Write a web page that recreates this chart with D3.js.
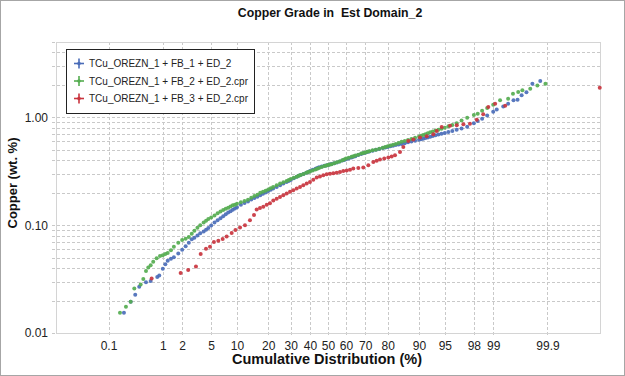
<!DOCTYPE html>
<html>
<head>
<meta charset="utf-8">
<script src="https://cdn.jsdelivr.net/npm/d3@7"></script>
<style>
  body { margin: 0; background: #fff; }
  svg { display: block; font-family: "Liberation Sans", Arial, sans-serif; }
</style>
</head>
<body>
<svg id="chart"></svg>
<script>
// legend / series
const seriesNames = [
    'TCu_OREZN_1 + FB_1 + ED_2',
    'TCu_OREZN_1 + FB_2 + ED_2.cpr',
    'TCu_OREZN_1 + FB_3 + ED_2.cpr'
];
const seriesColors = ['#4a6cb8', '#55ad50', '#c9343e'];

// axis ticks
const pctTicks = [0.1, 1, 2, 5, 10, 20, 30, 40, 50, 60, 70, 80, 90, 95, 98, 99, 99.9];
const pctLabels = ['0.1', '1', '2', '5', '10', '20', '30', '40', '50', '60', '70', '80', '90', '95', '98', '99', '99.9'];
const gradeTicks = [0.01, 0.1, 1];
const gradeGrid = [0.01, 0.02, 0.03, 0.04, 0.05, 0.06, 0.07, 0.08, 0.09,
    0.1, 0.2, 0.3, 0.4, 0.5, 0.6, 0.7, 0.8, 0.9, 1, 2, 3, 4, 5];

// [cumulative %, Cu wt.%]
const blueData = [
    [0.203, 0.0154], [0.273, 0.0195], [0.332, 0.0226], [0.393, 0.0268], [0.519, 0.0295], [0.626, 0.0304],
    [0.811, 0.0330], [0.875, 0.0341],
    [1, 0.0394], [1.1, 0.0433], [1.2, 0.0467], [1.35, 0.0489], [1.5, 0.0503], [1.75, 0.0547], [2, 0.0593],
    [2.25, 0.0638], [2.5, 0.0686], [2.75, 0.0739], [3, 0.0766], [3.3, 0.0801], [3.6, 0.0841], [4, 0.0876],
    [4.3, 0.0905], [4.6, 0.0942], [5, 0.0994], [5.5, 0.106], [6, 0.111], [6.5, 0.116], [7, 0.121], [7.5, 0.126],
    [8, 0.131], [8.5, 0.135], [9, 0.139], [9.5, 0.143], [10, 0.147], [11, 0.155], [12, 0.161], [13, 0.166],
    [14, 0.173], [15, 0.179], [16, 0.184], [17, 0.190], [18, 0.196], [19, 0.201], [20, 0.207], [21, 0.213],
    [22, 0.219], [23.5, 0.226], [25, 0.235], [26.5, 0.243], [28, 0.252], [29, 0.257], [30, 0.263], [31.5, 0.272],
    [33, 0.281], [34, 0.287], [35, 0.292], [36.5, 0.299], [38, 0.306], [39, 0.312], [40, 0.318], [41.5, 0.326],
    [43, 0.334], [44, 0.339], [45, 0.344], [46.5, 0.350], [48, 0.355], [49, 0.358], [50, 0.362], [51, 0.366],
    [52, 0.369], [53.5, 0.375], [55, 0.382], [56.5, 0.390], [58, 0.397], [59, 0.402], [60, 0.408], [61.5, 0.415],
    [63, 0.425], [64, 0.431], [65, 0.437], [66.5, 0.447], [68, 0.457], [69, 0.464], [70, 0.470], [71, 0.476],
    [72, 0.482], [73.5, 0.491], [75, 0.501], [76.5, 0.510], [78, 0.519], [79, 0.525], [80, 0.532], [81, 0.539],
    [82, 0.546], [83, 0.553], [84, 0.560], [85, 0.567], [86, 0.574], [87, 0.587], [88, 0.597], [89, 0.608],
    [90, 0.619], [90.5, 0.626], [91, 0.634], [91.5, 0.642], [92, 0.651], [92.5, 0.661], [93, 0.673], [93.5, 0.683],
    [94, 0.693], [94.5, 0.705], [95, 0.717], [95.5, 0.731], [96, 0.748], [96.5, 0.766], [97, 0.788], [97.5, 0.818],
    [98, 0.884], [98.25, 0.924], [98.5, 0.972], [98.75, 1.04], [99, 1.13],
    [99.125, 1.18], [99.32, 1.26], [99.44, 1.34], [99.55, 1.44], [99.62, 1.46], [99.68, 1.60], [99.74, 1.71],
    [99.80, 2.05], [99.86, 2.17]
];

const greenData = [
    [0.17, 0.0154], [0.222, 0.0175], [0.273, 0.0195], [0.319, 0.0259], [0.417, 0.0282], [0.465, 0.0316],
    [0.519, 0.0375], [0.569, 0.0405], [0.626, 0.0426], [0.693, 0.0458], [0.791, 0.0493], [0.90, 0.0517],
    [1, 0.0525], [1.1, 0.0540], [1.2, 0.0552], [1.35, 0.0587], [1.5, 0.0632], [1.75, 0.0686], [2, 0.0729],
    [2.25, 0.0750], [2.5, 0.0779], [2.75, 0.0832], [3, 0.0889], [3.3, 0.0948], [3.6, 0.100], [4, 0.106],
    [4.3, 0.110], [4.6, 0.114], [5, 0.118], [5.5, 0.123], [6, 0.129], [6.5, 0.134], [7, 0.138], [7.5, 0.142],
    [8, 0.145], [8.5, 0.149], [9, 0.153], [9.5, 0.155], [10, 0.158], [11, 0.163], [12, 0.168], [13, 0.172],
    [14, 0.180], [15, 0.186], [16, 0.192], [17, 0.200], [18, 0.204], [19, 0.209], [20, 0.214], [21, 0.220],
    [22, 0.226], [23.5, 0.235], [25, 0.243], [26.5, 0.250], [28, 0.257], [29, 0.263], [30, 0.268], [31.5, 0.275],
    [33, 0.282], [34, 0.287], [35, 0.292], [36.5, 0.299], [38, 0.306], [39, 0.311], [40, 0.315], [41.5, 0.321],
    [43, 0.329], [44, 0.334], [45, 0.339], [46.5, 0.346], [48, 0.353], [49, 0.358], [50, 0.362], [51, 0.365],
    [52, 0.368], [53.5, 0.375], [55, 0.383], [56.5, 0.390], [58, 0.401], [59, 0.407], [60, 0.415], [61.5, 0.423],
    [63, 0.432], [64, 0.437], [65, 0.443], [66.5, 0.451], [68, 0.461], [69, 0.467], [70, 0.473], [71, 0.479],
    [72, 0.485], [73.5, 0.495], [75, 0.501], [76.5, 0.511], [78, 0.523], [79, 0.531], [80, 0.539], [81, 0.547],
    [82, 0.556], [83, 0.565], [84, 0.579], [85, 0.594], [86, 0.605], [87, 0.618], [88, 0.631], [89, 0.647],
    [90, 0.663], [90.5, 0.674], [91, 0.686], [91.5, 0.698], [92, 0.711], [92.5, 0.726], [93, 0.740], [93.5, 0.755],
    [94, 0.769], [94.5, 0.786], [95, 0.803], [95.5, 0.825], [96, 0.850], [96.5, 0.880], [97, 0.936], [97.5, 0.994],
    [98, 1.05], [98.25, 1.08], [98.5, 1.15], [98.75, 1.22], [99, 1.31],
    [99.23, 1.44], [99.44, 1.49], [99.54, 1.66], [99.63, 1.72], [99.69, 1.78], [99.78, 1.84], [99.84, 1.98],
    [99.89, 2.05]
];

const redData = [
    [0.651, 0.0320], [1.90, 0.0360], [2.45, 0.0383], [3.15, 0.0413], [3.65, 0.0540], [4.29, 0.0604],
    [4.83, 0.0632], [5.41, 0.0700], [6.12, 0.0719], [6.90, 0.0744], [7.68, 0.0787], [8.75, 0.0848],
    [9.63, 0.0904], [10.77, 0.0952], [12.12, 0.100], [13.59, 0.111], [14.87, 0.124], [15.77, 0.140],
    [16.91, 0.144], [18.12, 0.148], [19.41, 0.155], [20.70, 0.160], [22.06, 0.169], [23.50, 0.176],
    [24.96, 0.183], [26.45, 0.190], [28.03, 0.197], [29.63, 0.204], [31.24, 0.211], [32.96, 0.219],
    [34.68, 0.226], [36.39, 0.235], [38.21, 0.243], [39.98, 0.252], [41.80, 0.264], [43.68, 0.277],
    [45.50, 0.283], [47.37, 0.290], [49.28, 0.296], [51.12, 0.300], [52.98, 0.303], [54.88, 0.306],
    [56.71, 0.311], [58.52, 0.318], [60.37, 0.322], [62.17, 0.326], [63.91, 0.335], [66.53, 0.339],
    [69.04, 0.342], [71.50, 0.359], [73.83, 0.385], [75.36, 0.396], [76.80, 0.406], [78.58, 0.415],
    [80.21, 0.424], [81.51, 0.434], [82.73, 0.445], [84.47, 0.477], [85.56, 0.531], [87.10, 0.603],
    [88.51, 0.622], [90.25, 0.649], [91.78, 0.667], [93.10, 0.696], [93.71, 0.746], [94.53, 0.813],
    [95.71, 0.834], [96.51, 0.843], [97.17, 0.861], [97.72, 0.874], [98.19, 0.952], [98.56, 1.07],
    [98.80, 1.25], [99.07, 1.34], [99.37, 1.28], [99.9935, 1.88]
];

const allData = [blueData, greenData, redData];

// inverse normal CDF (Acklam), used for the probability axis
function probit(p) {
    const a = [-3.969683028665376e+01, 2.209460984245205e+02, -2.759285104469687e+02, 1.383577518672690e+02, -3.066479806614716e+01, 2.506628277459239e+00];
    const b = [-5.447609879822406e+01, 1.615858368580409e+02, -1.556989798598866e+02, 6.680131188771972e+01, -1.328068155288572e+01];
    const c = [-7.784894002430293e-03, -3.223964580411365e-01, -2.400758277161838e+00, -2.549732539343734e+00, 4.374664141464968e+00, 2.938163982698783e+00];
    const d = [7.784695709041462e-03, 3.224671290700398e-01, 2.445134137142996e+00, 3.754408661907416e+00];
    const pl = 0.02425;
    let q, r;
    if (p < pl) {
        q = Math.sqrt(-2 * Math.log(p));
        return (((((c[0] * q + c[1]) * q + c[2]) * q + c[3]) * q + c[4]) * q + c[5]) / ((((d[0] * q + d[1]) * q + d[2]) * q + d[3]) * q + 1);
    }
    if (p <= 1 - pl) {
        q = p - 0.5; r = q * q;
        return (((((a[0] * r + a[1]) * r + a[2]) * r + a[3]) * r + a[4]) * r + a[5]) * q / (((((b[0] * r + b[1]) * r + b[2]) * r + b[3]) * r + b[4]) * r + 1);
    }
    q = Math.sqrt(-2 * Math.log(1 - p));
    return -(((((c[0] * q + c[1]) * q + c[2]) * q + c[3]) * q + c[4]) * q + c[5]) / ((((d[0] * q + d[1]) * q + d[2]) * q + d[3]) * q + 1);
}

const width = 625, height = 376;
const margin = { top: 42, right: 25, bottom: 43, left: 56 };
const plotW = width - margin.left - margin.right;
const plotH = height - margin.top - margin.bottom;
const font = '"Liberation Sans", Arial, sans-serif';

const svg = d3.select('#chart')
    .attr('width', width)
    .attr('height', height);

// outer frame
svg.append('rect')
    .attr('x', 0.5).attr('y', 0.5)
    .attr('width', width - 1).attr('height', height - 1)
    .attr('fill', '#fff')
    .attr('stroke', '#a6a6a6');

const chart = svg.append('g')
    .attr('transform', `translate(${margin.left},${margin.top})`);

// x works in normal-score space
const xScale = d3.scaleLinear().domain([-3.83, 3.83]).range([0, plotW]);
const xPct = p => xScale(probit(p / 100));
const yScale = d3.scaleLog().domain([0.01, 5]).range([plotH, 0]);

// grid
const grid = chart.append('g').attr('class', 'grid');
grid.selectAll('line.h')
    .data(gradeGrid)
    .join('line')
    .attr('class', 'h')
    .attr('x1', -4).attr('x2', plotW)
    .attr('y1', d => Math.round(yScale(d)) + 0.5)
    .attr('y2', d => Math.round(yScale(d)) + 0.5)
    .attr('stroke', '#c9c9c9')
    .attr('stroke-dasharray', '3,2');

grid.selectAll('line.v')
    .data(pctTicks)
    .join('line')
    .attr('class', 'v')
    .attr('y1', 0).attr('y2', plotH + 4)
    .attr('x1', d => Math.round(xPct(d)) + 0.5)
    .attr('x2', d => Math.round(xPct(d)) + 0.5)
    .attr('stroke', '#c9c9c9')
    .attr('stroke-dasharray', '3,2');

chart.append('rect')
    .attr('x', 0.5).attr('y', 0.5)
    .attr('width', plotW).attr('height', plotH)
    .attr('fill', 'none')
    .attr('stroke', '#d4d4d4');

// axes
const xAxis = d3.axisBottom(xScale)
    .tickValues(pctTicks.map(p => probit(p / 100)))
    .tickFormat((d, i) => pctLabels[i])
    .tickSize(0)
    .tickPadding(8);

const yAxis = d3.axisLeft(yScale)
    .tickValues(gradeTicks)
    .tickFormat(d3.format('.2f'))
    .tickSize(0)
    .tickPadding(8);

const xAxisG = chart.append('g')
    .attr('class', 'axis x-axis')
    .attr('transform', `translate(0,${plotH})`)
    .call(xAxis);

const yAxisG = chart.append('g')
    .attr('class', 'axis y-axis')
    .call(yAxis);

[xAxisG, yAxisG].forEach(g => {
    g.attr('font-family', font);
    g.select('.domain').remove();
    g.selectAll('text')
        .attr('fill', '#222')
        .style('font-size', '12px')
        .style('font-family', font);
});

// points
allData.forEach((data, i) => {
    chart.append('g')
        .selectAll('circle')
        .data(data)
        .join('circle')
        .attr('cx', d => xPct(d[0]))
        .attr('cy', d => yScale(d[1]))
        .attr('r', 2)
        .attr('fill', seriesColors[i])
        .attr('fill-opacity', 0.92);
});

// titles
svg.append('text')
    .attr('x', 330).attr('y', 17)
    .attr('text-anchor', 'middle')
    .style('font-family', font)
    .style('font-size', '12.3px')
    .style('font-weight', 'bold')
    .style('white-space', 'pre')
    .attr('fill', '#111')
    .text('Copper Grade in  Est Domain_2');

svg.append('text')
    .attr('x', 327).attr('y', 364)
    .attr('text-anchor', 'middle')
    .style('font-family', font)
    .style('font-size', '14.5px')
    .style('font-weight', 'bold')
    .attr('fill', '#111')
    .text('Cumulative Distribution (%)');

svg.append('text')
    .attr('transform', 'translate(17,183) rotate(-90)')
    .attr('text-anchor', 'middle')
    .style('font-family', font)
    .style('font-size', '13px')
    .style('font-weight', 'bold')
    .attr('fill', '#111')
    .text('Copper (wt. %)');

// legend
const legend = svg.append('g').attr('transform', 'translate(66,49)');
legend.append('rect')
    .attr('x', 0.5).attr('y', 0.5)
    .attr('width', 188).attr('height', 64)
    .attr('fill', '#fff')
    .attr('stroke', '#222');

seriesNames.forEach((name, i) => {
    const row = legend.append('g')
        .attr('transform', `translate(0,${14.5 + i * 17.5})`);
    row.append('line')
        .attr('x1', 8).attr('x2', 18).attr('y1', 0).attr('y2', 0)
        .attr('stroke', seriesColors[i]).attr('stroke-width', 1.6);
    row.append('line')
        .attr('x1', 13).attr('x2', 13).attr('y1', -5).attr('y2', 5)
        .attr('stroke', seriesColors[i]).attr('stroke-width', 1.6);
    row.append('circle')
        .attr('cx', 13).attr('cy', 0).attr('r', 1.8)
        .attr('fill', seriesColors[i]);
    row.append('text')
        .attr('x', 23).attr('y', 3.6)
        .style('font-family', font)
        .style('font-size', '10px')
        .attr('fill', '#222')
        .text(name);
});
</script>
</body>
</html>
